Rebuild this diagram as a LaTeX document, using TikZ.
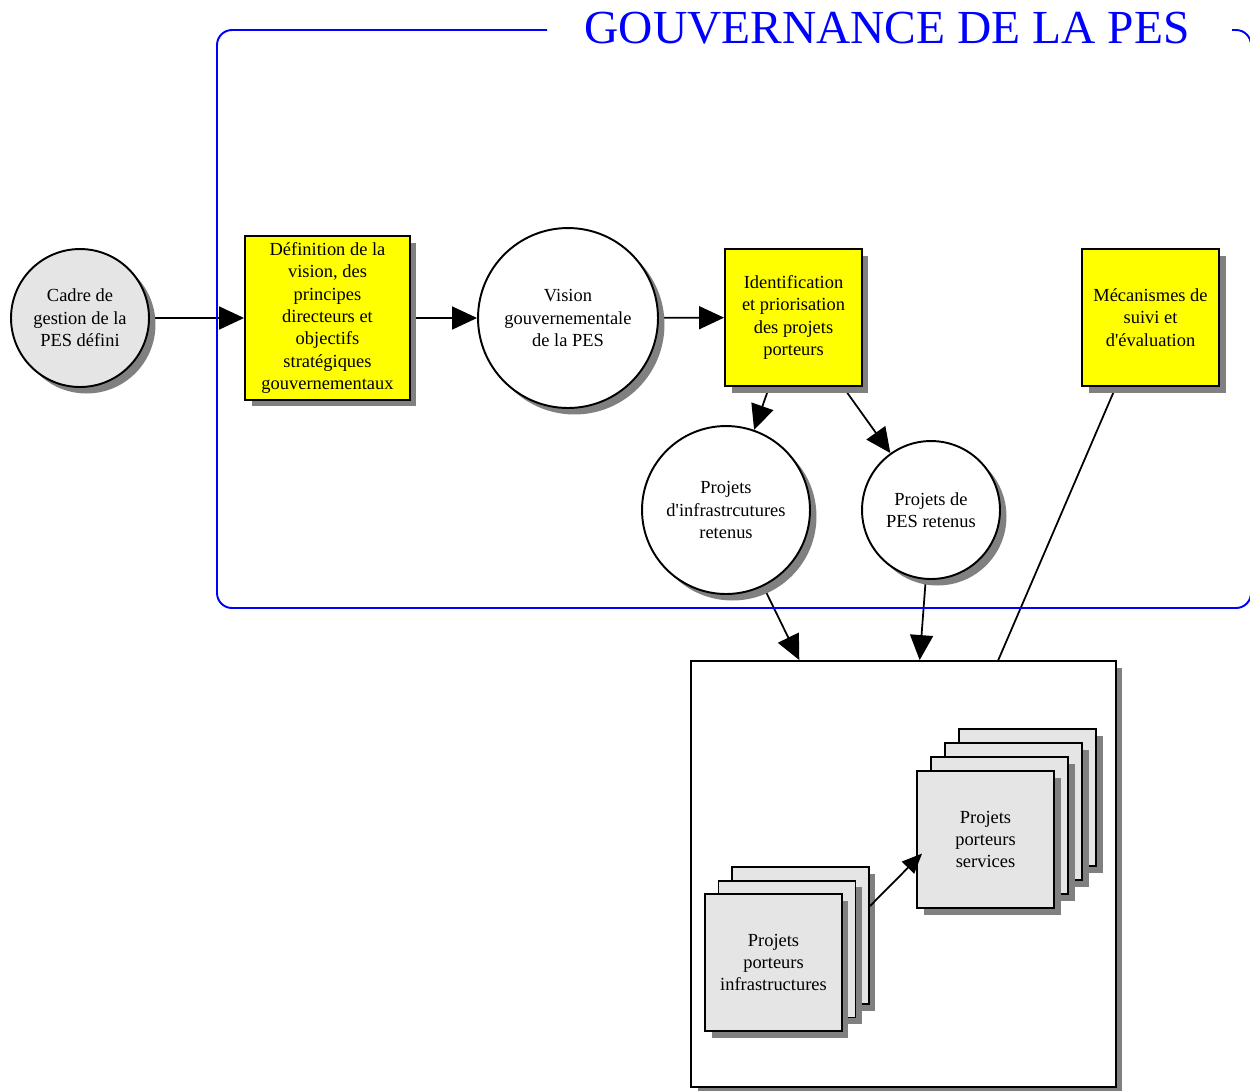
\documentclass[tikz,border=0pt]{standalone}
\usepackage{fontspec}
\setmainfont{Liberation Serif}
\usetikzlibrary{arrows.meta,shadows,calc}
\definecolor{boxyellow}{RGB}{255,255,0}
\definecolor{lightfill}{RGB}{229,229,229}
\definecolor{shadowgray}{RGB}{128,128,128}
\definecolor{frameblue}{RGB}{0,0,255}
\pgfdeclarelayer{background}
\pgfsetlayers{background,main}
\newcommand\boxfont{\fontsize{10.5}{12.75}\selectfont}
\newcommand\apos{\textquotesingle}

\tikzset{
  shad/.style={drop shadow={shadow xshift=0.13cm, shadow yshift=-0.13cm, fill=shadowgray, opacity=1}},
  base/.style={draw=black, line width=1.1pt, shad, align=center, inner sep=0pt, font=\boxfont},
  yellowbox/.style={base, rectangle, fill=boxyellow},
  greybox/.style={base, rectangle, fill=lightfill, minimum width=2.74cm, minimum height=2.74cm},
  whitecircle/.style={base, circle, fill=white},
  greycircle/.style={base, circle, fill=lightfill},
  flow/.style={line width=1pt, -{Triangle[length=0.5cm, width=0.46cm]}},
  smallflow/.style={line width=1pt, -{Triangle[length=0.4cm, width=0.34cm]}},
  plainline/.style={line width=1pt},
  govframe/.style={draw=frameblue, line width=1.1pt, rounded corners=0.3cm},
}

\begin{document}
\begin{tikzpicture}[x=0.02cm, y=-0.02cm]
  \useasboundingbox (0,0) rectangle (1250,1090);
  \clip (0,0) rectangle (1250,1090);

  % governance frame and its title
  \draw[govframe] (547,30) -- (217,30) -- (217,608) -- (1251,608) -- (1251,30) -- (1232,30);
  \node[text=frameblue, font=\fontsize{27}{30}\selectfont, inner sep=0pt] (title) at (887,28) {GOUVERNANCE DE LA PES};

  % main process chain
  \node[greycircle, minimum size=2.76cm] (cadre) at (80,318) {Cadre de\\gestion de la\\PES défini};
  \node[yellowbox, minimum width=3.3cm, minimum height=3.28cm] (def) at (327.5,318)
    {Définition de la\\vision, des\\principes\\directeurs et\\objectifs\\stratégiques\\gouvernementaux};
  \node[whitecircle, minimum size=3.6cm] (vision) at (568,318) {Vision\\gouvernementale\\de la PES};
  \node[yellowbox, minimum width=2.74cm, minimum height=2.74cm] (ident) at (793.5,317.5)
    {Identification\\et priorisation\\des projets\\porteurs};
  \node[yellowbox, minimum width=2.74cm, minimum height=2.74cm] (mec) at (1150.5,317.5)
    {Mécanismes de\\suivi et\\d\apos évaluation};

  % selected projects
  \node[whitecircle, minimum size=3.36cm] (infra) at (726,510) {Projets\\d\apos infrastrcutures\\retenus};
  \node[whitecircle, minimum size=2.76cm] (pes) at (931,510) {Projets de\\PES retenus};

  % implementation box
  \node[base, rectangle, fill=white, minimum width=8.5cm, minimum height=8.52cm] (impl) at (903.5,874) {};

  % stack of service projects (back to front)
  \node[greybox] (svc4) at (1027.5,797.5) {};
  \node[greybox] (svc3) at (1013.5,811.5) {};
  \node[greybox] (svc2) at (999.5,825.5) {};
  \node[greybox] (svc1) at (985.5,839.5) {Projets\\porteurs\\services};

  % stack of infrastructure projects (back to front)
  \node[greybox] (inf3) at (800.5,935.5) {};
  \node[greybox] (inf2) at (787,949) {};
  \node[greybox] (inf1) at (773.5,962.5) {Projets\\porteurs\\infrastructures};

  % connectors
  \begin{pgfonlayer}{background}
    \draw[flow] (cadre) -- (def);
    \draw[flow] (def) -- (vision);
    \draw[flow] (vision) -- (ident);
    \draw[flow] (ident) -- (infra);
    \draw[flow] (ident) -- (pes);
    \draw[flow] (infra) -- (impl);
    \draw[flow] (pes) -- (impl);
    \draw[plainline] ($(mec.south west)!0.25!(mec.south east)$) -- ($(impl.north west)!0.722!(impl.north east)$);
  \end{pgfonlayer}
  \draw[smallflow] ($(inf3.north east)+(0,40)$) -- ($(svc1.west)+(6,14)$);
\end{tikzpicture}
\end{document}
